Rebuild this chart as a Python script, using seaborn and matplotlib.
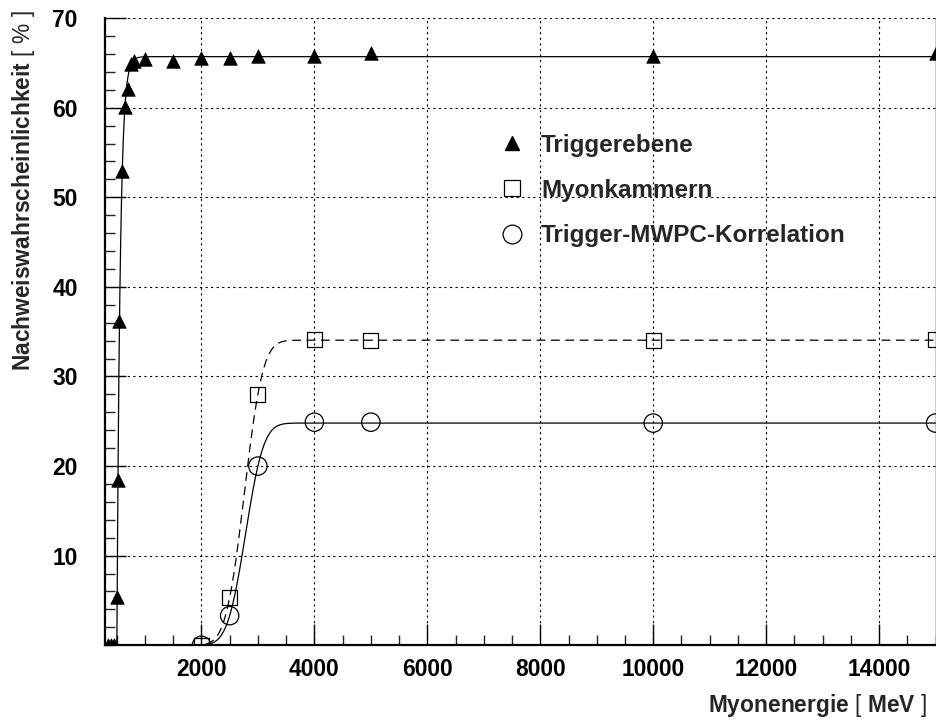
import numpy as np
import pandas as pd
import matplotlib
matplotlib.use("Agg")
import matplotlib.pyplot as plt
from matplotlib.ticker import MultipleLocator
from matplotlib.lines import Line2D
import seaborn as sns
from math import erf

# ---------------- data ----------------
trig_x = [350, 400, 450, 510, 520, 545, 600, 650, 700, 750, 800, 1000, 1500,
          2000, 2500, 3000, 4000, 5000, 10000, 15000]
trig_y = [0, 0, 0, 5.4, 18.4, 36.2, 52.9, 60.1, 62.1, 64.9, 65.2, 65.4, 65.2,
          65.6, 65.5, 65.8, 65.8, 66.1, 65.8, 66.1]

myon_x = [2000, 2500, 3000, 4000, 5000, 10000, 15000]
myon_y = [0, 5.3, 28.0, 34.1, 34.0, 34.0, 34.1]

corr_x = [2000, 2500, 3000, 4000, 5000, 10000, 15000]
corr_y = [0, 3.3, 20.0, 24.9, 24.9, 24.8, 24.8]

labels = ["Triggerebene", "Myonkammern", "Trigger-MWPC-Korrelation"]
xticks = [2000, 4000, 6000, 8000, 10000, 12000, 14000]
yticks = [10, 20, 30, 40, 50, 60, 70]

# fit parameters
trig_fit = dict(A=65.7, x0=503.0, tau=58.0)
myon_fit = dict(A=34.05, mu=2761.0, sigma=258.0)
corr_fit = dict(A=24.8, mu=2781.0, sigma=253.0)

# ---------------- style ----------------
sns.set_style("white")
plt.rcParams["font.family"] = ["Liberation Sans", "DejaVu Sans"]
plt.rcParams["mathtext.fontset"] = "custom"
plt.rcParams["mathtext.rm"] = "Liberation Sans"
plt.rcParams["mathtext.bf"] = "Liberation Sans:bold"
plt.rcParams["mathtext.it"] = "Liberation Sans:italic"

fig = plt.figure(figsize=(9.37, 7.25), dpi=100)
ax = fig.add_axes([0.1125, 0.110, 0.886, 0.865])

# fit curves
xg = np.unique(np.concatenate([np.linspace(300, 1500, 3000), np.linspace(1500, 15000, 2000)]))
verf = np.vectorize(erf)
trig_curve = np.where(xg > trig_fit["x0"],
                      trig_fit["A"] * (1 - np.exp(-(xg - trig_fit["x0"]) / trig_fit["tau"])), 0.0)
myon_curve = myon_fit["A"] / 2 * (1 + verf((xg - myon_fit["mu"]) / (np.sqrt(2) * myon_fit["sigma"])))
corr_curve = corr_fit["A"] / 2 * (1 + verf((xg - corr_fit["mu"]) / (np.sqrt(2) * corr_fit["sigma"])))

curves = pd.DataFrame({"x": xg, "trig": trig_curve, "myon": myon_curve, "corr": corr_curve})
sns.lineplot(data=curves, x="x", y="trig", ax=ax, color="black", lw=0.9, sort=False)
sns.lineplot(data=curves, x="x", y="corr", ax=ax, color="black", lw=0.9, sort=False)
sns.lineplot(data=curves, x="x", y="myon", ax=ax, color="black", lw=0.9, sort=False)
ax.lines[-1].set_dashes((7, 4.5))

# markers
sns.scatterplot(x=trig_x, y=trig_y, ax=ax, marker="^", s=95, color="black",
                edgecolor="black", linewidth=0.5, zorder=5)
sns.scatterplot(x=myon_x, y=myon_y, ax=ax, marker="s", s=115, facecolor="none",
                edgecolor="black", linewidth=0.9, zorder=5)
sns.scatterplot(x=corr_x, y=corr_y, ax=ax, marker="o", s=175, facecolor="none",
                edgecolor="black", linewidth=0.9, zorder=5)

ax.set_xlim(300, 15000)
ax.set_ylim(0, 70)
ax.set_xticks(xticks)
ax.set_yticks(yticks)
ax.set_xticklabels([str(v) for v in xticks], fontweight="bold", fontsize=16.4)
ax.set_yticklabels([str(v) for v in yticks], fontweight="bold", fontsize=16.4)
ax.xaxis.set_minor_locator(MultipleLocator(500))
ax.yaxis.set_minor_locator(MultipleLocator(2))

ax.tick_params(axis="x", which="major", direction="in", length=15, width=1.0,
               pad=9, bottom=True, top=False, colors="black")
ax.tick_params(axis="x", which="minor", direction="in", length=7.5, width=1.0,
               bottom=True, top=False)
ax.tick_params(axis="y", which="major", direction="in", length=15, width=1.0,
               pad=20, left=True, right=False, colors="black")
ax.tick_params(axis="y", which="minor", direction="in", length=7.5, width=1.0,
               left=True, right=False)

ax.grid(True, which="major", color="black", linestyle=(0, (2, 3)), linewidth=0.8)
ax.set_axisbelow(True)

for side in ["left", "bottom"]:
    ax.spines[side].set_linewidth(1.6)
    ax.spines[side].set_color("black")
ax.spines["right"].set_linewidth(1.0)
ax.spines["right"].set_color("black")
ax.spines["top"].set_visible(False)

ax.set_xlabel(r"$\mathbf{Myonenergie}$ [ $\mathbf{MeV}$ ]", fontsize=16.4,
              fontweight="normal", loc="right")
ax.xaxis.set_label_coords(0.99, -0.075)
ax.xaxis.label.set_va("top")
ax.set_ylabel(r"$\mathbf{Nachweiswahrscheinlichkeit}$ [ $\mathit{\%}$ ]", fontsize=16.4,
              fontweight="normal", loc="top")
ax.yaxis.set_label_coords(-0.082, 1.013)

handles = [
    Line2D([], [], marker="^", color="black", ls="none", markersize=10.5),
    Line2D([], [], marker="s", color="black", mfc="none", ls="none", markersize=11, mew=0.9),
    Line2D([], [], marker="o", color="black", mfc="none", ls="none", markersize=13.5, mew=0.9),
]
ax.legend(handles, labels, loc="upper left", bbox_to_anchor=(0.475, 0.816),
          frameon=False, prop=dict(family="Liberation Sans", weight="bold", size=17.5),
          handlelength=1.0, handletextpad=0.7, labelspacing=0.92, borderpad=0,
          borderaxespad=0)

fig.savefig("out.png", dpi=100)
